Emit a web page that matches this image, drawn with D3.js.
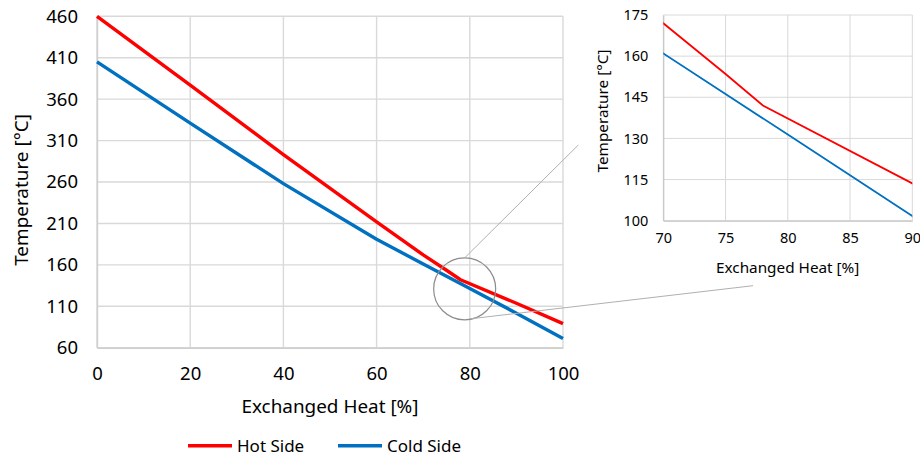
<!DOCTYPE html>
<html><head><meta charset="utf-8">
<script src="https://cdn.jsdelivr.net/npm/d3@7"></script>
<style>
html,body{margin:0;padding:0;background:#fff;}
svg{display:block;font-family:"Noto Sans","Open Sans",sans-serif;}
</style></head>
<body><svg id="chart" width="920" height="457"></svg>
<script>
// ---- data ----
const hotX  = [0, 20, 40, 60, 65, 70, 75, 78, 90, 100];
const hotY  = [460, 377, 293, 212, 192, 172, 153.5, 142, 113.6, 89];
const coldX = [0, 20, 40, 60, 70, 80, 90, 100];
const coldY = [405, 331, 258, 191, 161, 131.4, 101.7, 71];
const mainXTicks = [0, 20, 40, 60, 80, 100];
const mainYTicks = [60, 110, 160, 210, 260, 310, 360, 410, 460];
const insetXTicks = [70, 75, 80, 85, 90];
const insetYTicks = [100, 115, 130, 145, 160, 175];
const seriesNames = ["Hot Side", "Cold Side"];
const seriesColors = ["#ff0000", "#0070c0"];
const zoomCenter = [78.9, 131];

const hot = hotX.map((x,i)=>({x, y:hotY[i]}));
const cold = coldX.map((x,i)=>({x, y:coldY[i]}));
const series = [hot, cold];

const svg = d3.select("#chart");
const gridColor = "#d9d9d9";

// ---- main chart ----
const M = {l:97, r:563, t:16.3, b:347.7};
const x = d3.scaleLinear().domain([0,100]).range([M.l, M.r]);
const y = d3.scaleLinear().domain([60,460]).range([M.b, M.t]);

const gm = svg.append("g");
gm.selectAll(".vg").data(mainXTicks).join("line")
  .attr("x1",d=>x(d)).attr("x2",d=>x(d)).attr("y1",M.t).attr("y2",M.b)
  .attr("stroke",gridColor).attr("stroke-width",1.4);
gm.selectAll(".hg").data(mainYTicks).join("line")
  .attr("x1",M.l).attr("x2",M.r).attr("y1",d=>y(d)).attr("y2",d=>y(d))
  .attr("stroke",gridColor).attr("stroke-width",1.4);

const xAxis = gm.append("g").attr("transform",`translate(0,${M.b})`)
  .call(d3.axisBottom(x).tickValues(mainXTicks).tickSize(0).tickPadding(19));
const yAxis = gm.append("g").attr("transform",`translate(${M.l},0)`)
  .call(d3.axisLeft(y).tickValues(mainYTicks).tickSize(0).tickPadding(19));
[xAxis,yAxis].forEach(a=>{
  a.select(".domain").attr("stroke","#cfcfcf").attr("stroke-width",1.4);
  a.selectAll("text").attr("font-size",18.5).attr("fill","#000")
   .attr("font-family","'Noto Sans',sans-serif");
});

const line = d3.line().x(d=>x(d.x)).y(d=>y(d.y));
series.forEach((s,i)=>{
  gm.append("path").datum(s).attr("d",line).attr("fill","none")
    .attr("stroke",seriesColors[i]).attr("stroke-width",3.4)
    .attr("stroke-linejoin","round");
});

gm.append("text").attr("x",(M.l+M.r)/2).attr("y",413).attr("text-anchor","middle")
  .attr("font-size",18.9).text("Exchanged Heat [%]");
gm.append("text").attr("transform",`translate(28,190) rotate(-90)`).attr("text-anchor","middle")
  .attr("font-size",18.9).text("Temperature [°C]");

// zoom circle and connectors
const cx = x(zoomCenter[0]), cy = y(zoomCenter[1]);
gm.append("circle").attr("cx",cx).attr("cy",cy).attr("r",31)
  .attr("fill","none").attr("stroke","#8c8c8c").attr("stroke-width",1.2);
gm.append("line").attr("x1",cx).attr("y1",cy-31).attr("x2",578.3).attr("y2",145)
  .attr("stroke","#b0b0b0").attr("stroke-width",1);
gm.append("line").attr("x1",cx+5).attr("y1",cy+30).attr("x2",753).attr("y2",285.7)
  .attr("stroke","#b0b0b0").attr("stroke-width",1);

// legend
const leg = svg.append("g");
const legX = [188, 338];
seriesNames.forEach((n,i)=>{
  leg.append("line").attr("x1",legX[i]).attr("x2",legX[i]+44).attr("y1",445.7).attr("y2",445.7)
    .attr("stroke",seriesColors[i]).attr("stroke-width",3.4);
  leg.append("text").attr("x",legX[i]+49).attr("y",452).attr("font-size",17).text(n);
});

// ---- inset ----
const I = {l:663.3, r:912.3, t:15, b:220.7};
const xi = d3.scaleLinear().domain([70,90]).range([I.l, I.r]);
const yi = d3.scaleLinear().domain([100,175]).range([I.b, I.t]);
const gi = svg.append("g");
gi.selectAll(".vg").data(insetXTicks).join("line")
  .attr("x1",d=>xi(d)).attr("x2",d=>xi(d)).attr("y1",I.t).attr("y2",I.b)
  .attr("stroke",gridColor).attr("stroke-width",1);
gi.selectAll(".hg").data(insetYTicks).join("line")
  .attr("x1",I.l).attr("x2",I.r).attr("y1",d=>yi(d)).attr("y2",d=>yi(d))
  .attr("stroke",gridColor).attr("stroke-width",1);
const xiA = gi.append("g").attr("transform",`translate(0,${I.b})`)
  .call(d3.axisBottom(xi).tickValues(insetXTicks).tickSize(0).tickPadding(12));
const yiA = gi.append("g").attr("transform",`translate(${I.l},0)`)
  .call(d3.axisLeft(yi).tickValues(insetYTicks).tickSize(0).tickPadding(15));
[xiA,yiA].forEach(a=>{
  a.select(".domain").attr("stroke","#bfbfbf").attr("stroke-width",1);
  a.selectAll("text").attr("font-size",14.5).attr("fill","#000")
   .attr("font-family","'Noto Sans',sans-serif");
});
svg.append("clipPath").attr("id","iclip").append("rect")
  .attr("x",I.l).attr("y",I.t-2).attr("width",I.r-I.l).attr("height",I.b-I.t+2);
const linei = d3.line().x(d=>xi(d.x)).y(d=>yi(d.y));
series.forEach((s,i)=>{
  gi.append("path").datum(s).attr("d",linei).attr("fill","none")
    .attr("clip-path","url(#iclip)")
    .attr("stroke",seriesColors[i]).attr("stroke-width",1.8);
});
gi.append("text").attr("x",787.7).attr("y",273).attr("text-anchor","middle")
  .attr("font-size",15.3).text("Exchanged Heat [%]");
gi.append("text").attr("transform",`translate(608,111) rotate(-90)`).attr("text-anchor","middle")
  .attr("font-size",15.3).text("Temperature [°C]");
</script></body></html>
